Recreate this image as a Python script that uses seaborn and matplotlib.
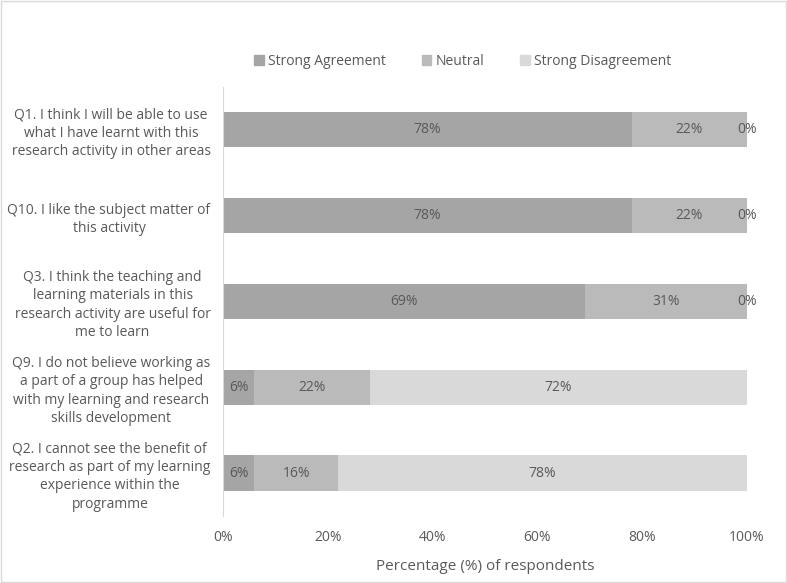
import numpy as np
import pandas as pd
import matplotlib.pyplot as plt
import matplotlib.ticker as mticker
from matplotlib.patches import Rectangle
import seaborn as sns

# ─── DATA ────────────────────────────────────────────
questions = [
    "Q1. I think I will be able to use\nwhat I have learnt with this\nresearch activity in other areas",
    "Q10. I like the subject matter of\nthis activity",
    "Q3. I think the teaching and\nlearning materials in this\nresearch activity are useful for\nme to learn",
    "Q9. I do not believe working as\na part of a group has helped\nwith my learning and research\nskills development",
    "Q2. I cannot see the benefit of\nresearch as part of my learning\nexperience within the\nprogramme",
]
agreement = [78, 78, 69, 6, 6]
neutral = [22, 22, 31, 22, 16]
disagreement = [0, 0, 0, 72, 78]
series_names = ["Strong Agreement", "Neutral", "Strong Disagreement"]

# ─── STYLE ────────────────────────────────────────────
sns.set_theme(style="white")
plt.rcParams['font.family'] = ['Open Sans', 'DejaVu Sans']
TEXT = '#595959'
COLORS = ['#a5a5a5', '#bababa', '#d9d9d9']
FS = 10

df = pd.DataFrame({'q': questions, 'agree': agreement,
                   'neutral': neutral, 'disagree': disagreement})
df['c1'] = df['agree']
df['c2'] = df['agree'] + df['neutral']
df['c3'] = df['c2'] + df['disagree']

fig = plt.figure(figsize=(7.87, 5.83), dpi=100)
ax = fig.add_axes([0.2834, 0.115, 0.6658, 0.736])

# stacked bars drawn back to front (cumulative totals)
for col, color in zip(['c3', 'c2', 'c1'], COLORS[::-1]):
    sns.barplot(data=df, y='q', x=col, orient='h', color=color,
                width=0.41, saturation=1, ax=ax, linewidth=0)

# segment labels
for i, row in df.iterrows():
    starts = [0, row['c1'], row['c2']]
    vals = [row['agree'], row['neutral'], row['disagree']]
    for s, v in zip(starts, vals):
        ax.text(s + v / 2, i, f'{v}%', ha='center', va='center',
                color=TEXT, fontsize=FS)

ax.set_xlim(0, 100)
ax.set_ylim(len(df) - 0.5, -0.5)
ax.xaxis.set_major_locator(mticker.MultipleLocator(20))
ax.xaxis.set_major_formatter(mticker.FuncFormatter(lambda x, _: f'{x:.0f}%'))
ax.set_xlabel('Percentage (%) of respondents', color=TEXT, fontsize=FS + 1, labelpad=10)
ax.set_ylabel('')
ax.tick_params(axis='x', colors=TEXT, labelsize=FS, length=0, pad=10)
ax.tick_params(axis='y', colors=TEXT, labelsize=FS, length=0, pad=9)
for t in ax.get_yticklabels():
    t.set_multialignment('center')
    t.set_linespacing(1.3)

for side in ['top', 'right', 'bottom']:
    ax.spines[side].set_visible(False)
ax.spines['left'].set_color('#d9d9d9')
ax.spines['left'].set_linewidth(0.8)

handles = [Rectangle((0, 0), 1, 1, color=c) for c in COLORS]
fig.legend(handles, series_names, loc='center', bbox_to_anchor=(0.588, 0.895),
           ncol=3, frameon=False, fontsize=FS, labelcolor=TEXT,
           handlelength=0.7, handleheight=0.7, handletextpad=0.3, columnspacing=2.6)

fig.patches.append(Rectangle((0.001, 0.001), 0.998, 0.998, transform=fig.transFigure,
                             fill=False, edgecolor='#d9d9d9', linewidth=1))

fig.savefig('out.png', dpi=100)
